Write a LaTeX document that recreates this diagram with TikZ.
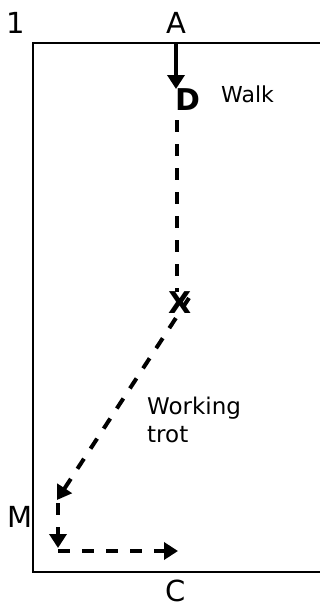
\documentclass[tikz,border=0pt]{standalone}
\usepackage{fontspec}
\setmainfont{DejaVu Sans}
\usetikzlibrary{arrows.meta}
\begin{document}
\begin{tikzpicture}[x=1pt,y=-1pt,
  bigtxt/.style={inner sep=0pt, anchor=base, text depth=0pt, font=\fontsize{29}{30}\selectfont},
  smalltxt/.style={inner sep=0pt, anchor=base west, font=\fontsize{22}{28}\selectfont, align=left},
  boldmark/.style={inner sep=0pt, anchor=base west, font=\fontsize{30}{30}\selectfont\bfseries},
  arenaline/.style={line width=2pt},
  routeline/.style={line width=4pt, -{Triangle[length=14pt,width=17pt]}},
  dashline/.style={line width=4pt, dash pattern=on 12pt off 12pt},
  dashroute/.style={routeline, dash pattern=on 12pt off 12pt}]
\useasboundingbox (0,0) rectangle (320,608);
% arena
\draw[arenaline] (322,43) -- (33,43) -- (33,572) -- (322,572);
% letters
\node[bigtxt] (one) at (16,33) {1};
\node[bigtxt] (A) at (176,33) {A};
\node[bigtxt] (M) at (20,527) {M};
\node[bigtxt] (C) at (176,601) {C};
\node[boldmark] (D) at (175,110) {D};
\node[boldmark] (X) at (168,313) {X};
\node[smalltxt] (walk) at (221,102) {Walk};
\node[smalltxt, font=\fontsize{23}{28}\selectfont] (work) at (147,442) {Working\\trot};
% route
\coordinate (a0) at (176,43);
\coordinate (a1) at (176,89);
\coordinate (d0) at (177,120);
\coordinate (x0) at (177,292);
\coordinate (x1) at (189,298);
\coordinate (m0) at (57,500);
\coordinate (m1) at (58,503);
\coordinate (m2) at (58,548);
\coordinate (c0) at (58,551);
\coordinate (c1) at (178,551);
\draw[routeline] (a0) -- (a1);
\draw[dashline] (d0) -- (x0);
\draw[dashroute] (x1) -- (m0);
\draw[dashroute] (m1) -- (m2);
\draw[dashroute] (c0) -- (c1);
\end{tikzpicture}
\end{document}
